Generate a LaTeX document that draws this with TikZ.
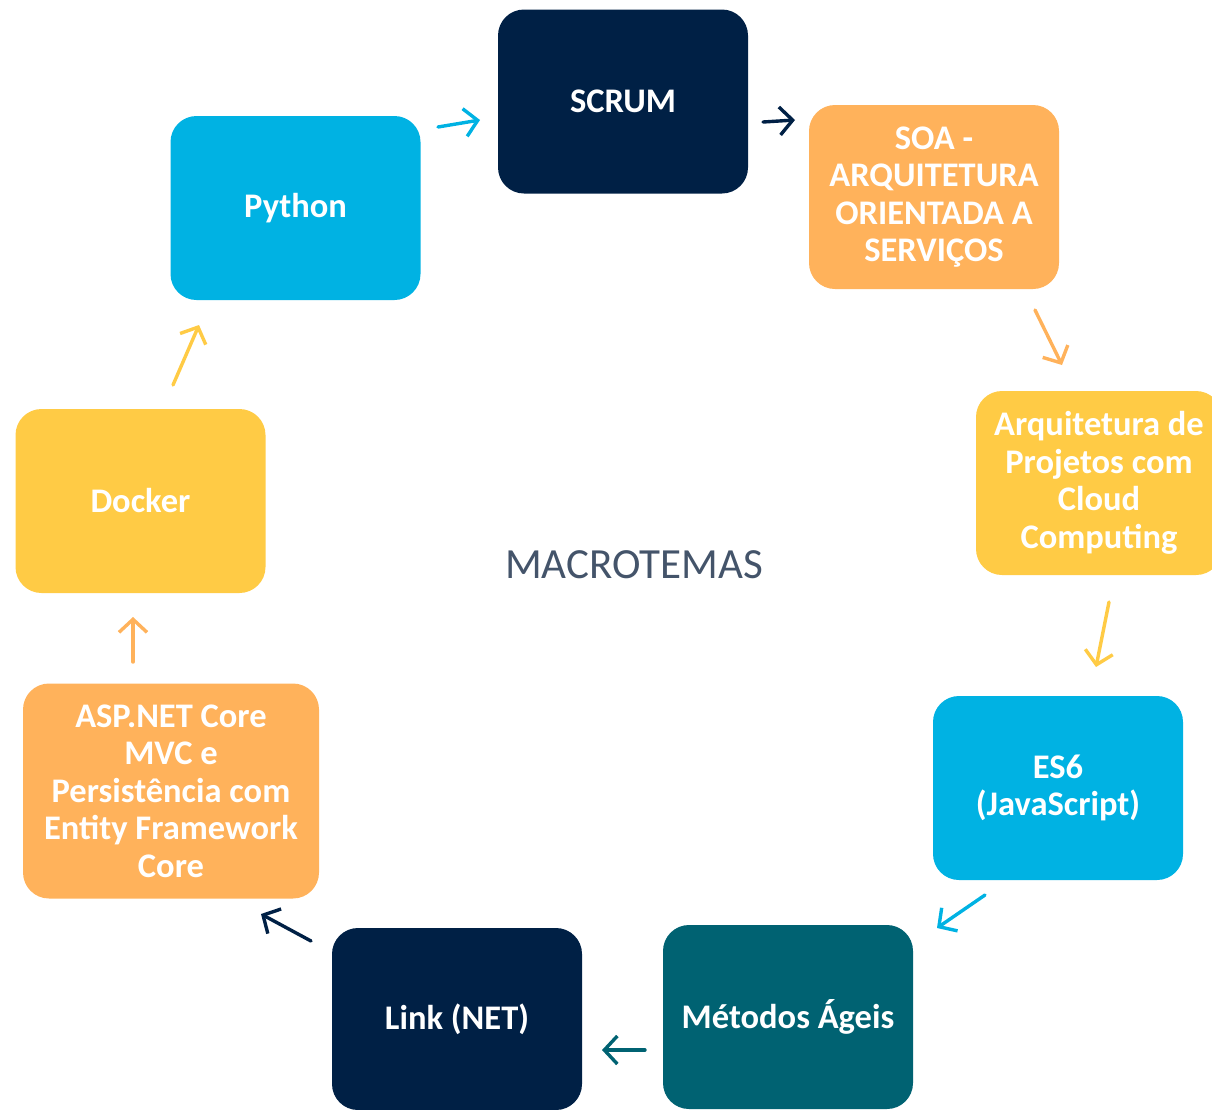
\documentclass[tikz,border=0pt]{standalone}
\usepackage{fontspec}
\setmainfont{Carlito}
\usepackage{tikz}
\usetikzlibrary{arrows.meta}

\tikzset{
  tema/.style={rectangle, rounded corners=26pt, inner sep=0pt, text=white, align=center,
    font=\fontsize{34.5}{37.5}\selectfont\bfseries, minimum width=250pt, minimum height=184pt},
  seta/.style={line width=3.4pt, line cap=round, -{Straight Barb[length=13pt, width=28pt, line width=3.4pt]}}
}

\begin{document}
\begin{tikzpicture}[x=1pt,y=1pt,yscale=-1,xscale=1]

\definecolor{mynavy}{HTML}{002045}
\definecolor{myorange}{HTML}{FFB25B}
\definecolor{myyellow}{HTML}{FFCB45}
\definecolor{mycyan}{HTML}{00B2E3}
\definecolor{myteal}{HTML}{006272}
\definecolor{mygray}{HTML}{44546A}

\useasboundingbox (0,0) rectangle (1212,1109);

% caixas
\node[tema, fill=mynavy] (scrum) at (623, 101.5) {SCRUM};
\node[tema, fill=myorange] (soa) at (934, 197) {SOA -\\ARQUITETURA\\ORIENTADA A\\SERVIÇOS};
\node[tema, fill=myyellow, minimum width=246pt] (cloud) at (1099, 483) {Arquitetura de\\Projetos com\\Cloud\\Computing};
\node[tema, fill=mycyan] (es6) at (1058, 788) {ES6\\(JavaScript)};
\node[tema, fill=myteal] (ageis) at (788, 1017) {Métodos Ágeis};
\node[tema, fill=mynavy, minimum height=182pt] (linq) at (457, 1019) {Link (NET)};
\node[tema, fill=myorange, minimum width=296pt, minimum height=215pt] (asp) at (171, 791) {ASP.NET Core\\MVC e\\Persistência com\\Entity Framework\\Core};
\node[tema, fill=myyellow] (docker) at (140.5, 501) {Docker};
\node[tema, fill=mycyan] (python) at (295.5, 208) {Python};

\node[mygray, font=\fontsize{43}{48}\selectfont] (titulo) at (634, 565) {MACROTEMAS};

% pontas das setas
\coordinate (a1) at (438, 127); \coordinate (b1) at (480, 120);
\coordinate (a2) at (763, 122); \coordinate (b2) at (795, 120);
\coordinate (a3) at (1035, 310); \coordinate (b3) at (1062, 365);
\coordinate (a4) at (1109, 602); \coordinate (b4) at (1096, 667);
\coordinate (a5) at (985, 895); \coordinate (b5) at (937, 928);
\coordinate (a6) at (645, 1050); \coordinate (b6) at (602, 1050);
\coordinate (a7) at (311, 941); \coordinate (b7) at (261, 914);
\coordinate (a8) at (133, 662); \coordinate (b8) at (133, 617);
\coordinate (a9) at (173, 385); \coordinate (b9) at (199, 325);

\draw[seta, mycyan] (a1) -- (b1);
\draw[seta, mynavy] (a2) -- (b2);
\draw[seta, myorange] (a3) -- (b3);
\draw[seta, myyellow] (a4) -- (b4);
\draw[seta, mycyan] (a5) -- (b5);
\draw[seta, myteal] (a6) -- (b6);
\draw[seta, mynavy] (a7) -- (b7);
\draw[seta, myorange] (a8) -- (b8);
\draw[seta, myyellow] (a9) -- (b9);

\end{tikzpicture}
\end{document}
